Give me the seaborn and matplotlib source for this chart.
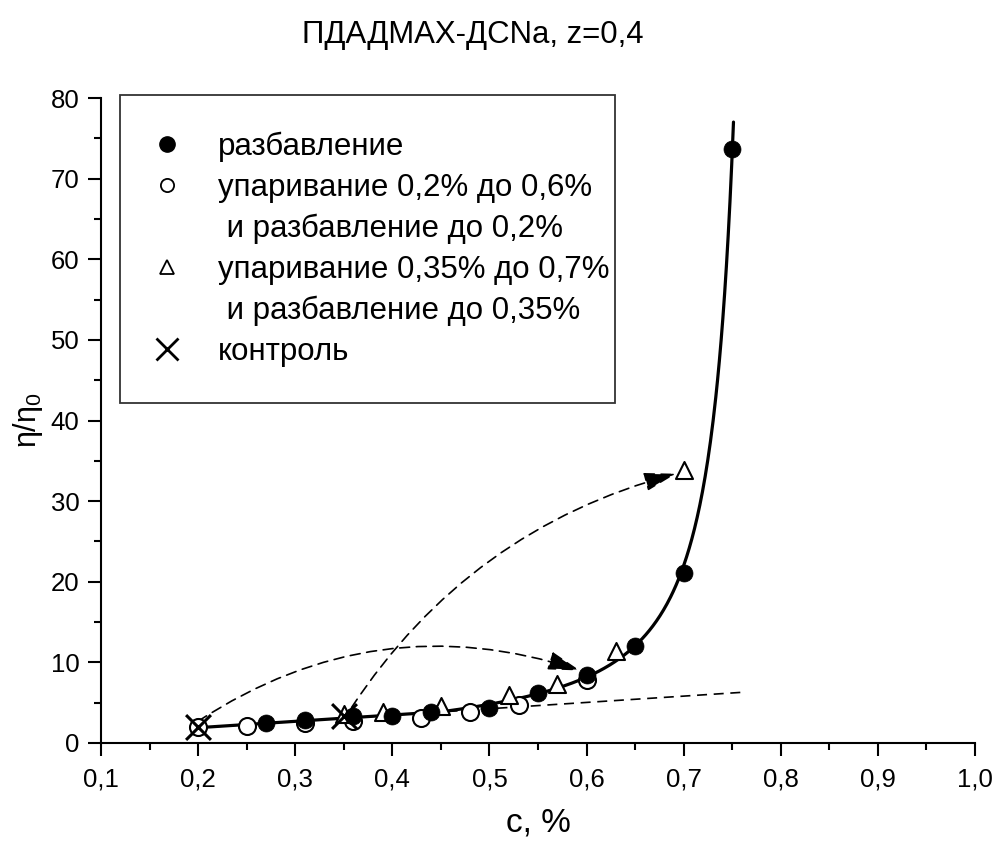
import numpy as np
import pandas as pd
import matplotlib
matplotlib.use("Agg")
import matplotlib.pyplot as plt
from matplotlib.lines import Line2D
from matplotlib.ticker import MultipleLocator, FuncFormatter
import seaborn as sns

# --- measured series ---------------------------------------------------------
c_dil = [0.27, 0.31, 0.36, 0.40, 0.44, 0.50, 0.55, 0.60, 0.65, 0.70, 0.75]
eta_dil = [2.5, 2.8, 3.3, 3.3, 3.8, 4.4, 6.2, 8.4, 12.0, 21.1, 73.7]

c_evap02 = [0.20, 0.25, 0.31, 0.36, 0.43, 0.48, 0.53, 0.60]
eta_evap02 = [2.0, 2.1, 2.5, 2.7, 3.1, 3.8, 4.7, 7.8]

c_evap035 = [0.35, 0.39, 0.45, 0.52, 0.57, 0.63, 0.70]
eta_evap035 = [3.6, 3.9, 4.6, 5.9, 7.3, 11.4, 33.8]

c_ctrl = [0.20, 0.35]
eta_ctrl = [2.0, 3.3]

# fitted trend: linear base plus divergent term
fit_c_range = [0.205, 0.7513]
base_c0, base_eta0, base_slope = 0.20, 1.9, 7.83
div_a, div_c_on, div_c_crit, div_n = 1.72, 0.45, 0.789, 1.5

# straight extrapolation of the linear base
lin_c = [0.20, 0.762]

# arrows: (start, end) in data units and curvature
arrow_02 = ((0.20, 2.7), (0.593, 9.0), -0.24)
arrow_035 = ((0.358, 4.4), (0.692, 33.4), -0.19)

title = "ПДАДМАХ-ДСNa, z=0,4"
legend_labels = ["разбавление",
                 "упаривание 0,2% до 0,6%",
                 " и разбавление до 0,2%",
                 "упаривание 0,35% до 0,7%",
                 " и разбавление до 0,35%",
                 "контроль"]
x_ticks = [0.1, 0.2, 0.3, 0.4, 0.5, 0.6, 0.7, 0.8, 0.9, 1.0]
y_ticks = [0, 10, 20, 30, 40, 50, 60, 70, 80]

# --- style -------------------------------------------------------------------
sns.set_theme(style="ticks")
plt.rcParams["font.family"] = ["Liberation Sans", "DejaVu Sans"]
plt.rcParams["mathtext.fontset"] = "custom"
plt.rcParams["mathtext.rm"] = "Liberation Sans"
plt.rcParams["text.color"] = "black"
plt.rcParams["axes.labelcolor"] = "black"

fig = plt.figure(figsize=(9.96, 8.43), dpi=100)
ax = fig.add_axes([101 / 996, 100 / 843, 874 / 996, 645 / 843])

# fitted curve
fc = np.linspace(fit_c_range[0], fit_c_range[1], 600)
base = base_eta0 + base_slope * (fc - base_c0)
excess = div_a * np.clip(fc - div_c_on, 0, None) / (div_c_crit - fc) ** div_n
fit_df = pd.DataFrame({"c": fc, "eta": base + excess})
sns.lineplot(data=fit_df, x="c", y="eta", ax=ax, color="black", lw=2.3,
             sort=False, estimator=None)

lin_df = pd.DataFrame({"c": lin_c,
                       "eta": [base_eta0 + base_slope * (v - base_c0) for v in lin_c]})
sns.lineplot(data=lin_df, x="c", y="eta", ax=ax, color="black", lw=1.2,
             dashes=False, estimator=None)
ax.lines[-1].set_dashes((6, 4))

# arrows
for (start, end, rad) in (arrow_02, arrow_035):
    ax.annotate("", xy=end, xytext=start,
                arrowprops=dict(arrowstyle="-|>,head_length=1.1,head_width=0.32",
                                connectionstyle=f"arc3,rad={rad}",
                                color="black", lw=1.2, linestyle=(0, (6, 4)),
                                shrinkA=0, shrinkB=0, mutation_scale=18))

# markers
sns.scatterplot(x=c_evap02, y=eta_evap02, ax=ax, marker="o", s=150,
                facecolor="white", edgecolor="black", linewidth=1.5, zorder=4)
sns.scatterplot(x=c_evap035, y=eta_evap035, ax=ax, marker="^", s=150,
                facecolor="white", edgecolor="black", linewidth=1.5, zorder=4)
sns.scatterplot(x=c_dil, y=eta_dil, ax=ax, marker="o", s=150,
                color="black", edgecolor="black", linewidth=0.5, zorder=5)
sns.scatterplot(x=c_ctrl, y=eta_ctrl, ax=ax, marker="x", s=320,
                color="black", linewidth=2.2, zorder=6)

# axes
ax.set_xlim(0.1, 1.0)
ax.set_ylim(0, 80)
ax.set_xticks(x_ticks)
ax.set_yticks(y_ticks)
ax.xaxis.set_minor_locator(MultipleLocator(0.05))
ax.yaxis.set_minor_locator(MultipleLocator(5))
ax.xaxis.set_major_formatter(FuncFormatter(lambda v, p: f"{v:.1f}".replace(".", ",")))
ax.yaxis.set_major_formatter(FuncFormatter(lambda v, p: f"{v:.0f}"))
ax.tick_params(which="major", direction="out", length=9.5, width=1.5,
               labelsize=18.5, color="black", labelcolor="black")
ax.tick_params(axis="x", which="major", pad=8)
ax.tick_params(axis="y", which="major", pad=6)
ax.tick_params(which="minor", direction="out", length=5, width=1.5, color="black")
for side in ("top", "right"):
    ax.spines[side].set_visible(False)
for side in ("left", "bottom"):
    ax.spines[side].set_linewidth(1.5)
    ax.spines[side].set_color("black")
ax.set_xlabel("c, %", fontsize=24, labelpad=12)
ax.set_ylabel(r"$\mathregular{η/η_0}$", fontsize=22, labelpad=4)
ax.set_facecolor("white")

fig.text(473 / 996, 1 - 35 / 843, title, ha="center", va="center", fontsize=22.4)

# legend
handles = [
    Line2D([], [], ls="none", marker="o", ms=11, mfc="black", mec="black"),
    Line2D([], [], ls="none", marker="o", ms=9.5, mfc="white", mec="black", mew=1.3),
    Line2D([], [], ls="none", marker=None),
    Line2D([], [], ls="none", marker="^", ms=10, mfc="white", mec="black", mew=1.3),
    Line2D([], [], ls="none", marker=None),
    Line2D([], [], ls="none", marker="x", ms=16, mec="black", mew=2),
]
leg = ax.legend(handles, legend_labels, loc="upper left",
                bbox_to_anchor=(0.0217, 0.532, 0.5664, 0.4727), mode="expand",
                fontsize=22.5, frameon=True, fancybox=False, borderpad=1.16,
                handlelength=0.7, handletextpad=1.28, labelspacing=0.35,
                borderaxespad=0)
leg.get_frame().set_edgecolor("black")
leg.get_frame().set_linewidth(1.3)
leg.set_zorder(10)
for t in leg.get_texts():
    t.set_color("black")

fig.savefig("out.png", dpi=100, facecolor="white")
